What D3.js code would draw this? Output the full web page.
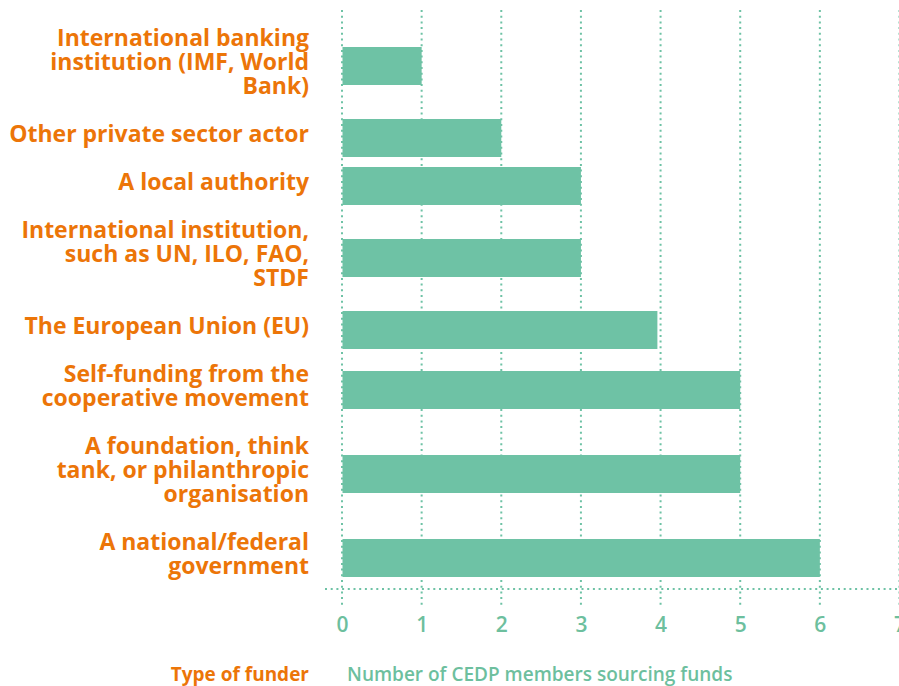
<!DOCTYPE html>
<html><head><meta charset="utf-8">
<script src="https://cdn.jsdelivr.net/npm/d3@7/dist/d3.min.js"></script>
<style>
html,body{margin:0;padding:0;background:#fff;}
svg{display:block;}
</style></head>
<body>
<svg id="chart" width="899" height="686"></svg>
<script>
// ---- data ----
const categories = [
  "International banking institution (IMF, World Bank)",
  "Other private sector actor",
  "A local authority",
  "International institution, such as UN, ILO, FAO, STDF",
  "The European Union (EU)",
  "Self-funding from the cooperative movement",
  "A foundation, think tank, or philanthropic organisation",
  "A national/federal government"
];
const categoryLines = [
  ["International banking", "institution (IMF, World", "Bank)"],
  ["Other private sector actor"],
  ["A local authority"],
  ["International institution,", "such as UN, ILO, FAO,", "STDF"],
  ["The European Union (EU)"],
  ["Self-funding from the", "cooperative movement"],
  ["A foundation, think", "tank, or philanthropic", "organisation"],
  ["A national/federal", "government"]
];
const values = [1, 2, 3, 3, 3.96, 5, 5, 6];
const xTicks = [0, 1, 2, 3, 4, 5, 6, 7];
const yTitle = "Type of funder";
const xTitle = "Number of CEDP members sourcing funds";

// ---- styles / layout ----
const ORANGE = "#ec7508";
const GREEN = "#6ec2a5";
const GREEN_TXT = "#6dbf9e";
const FONT = "'Open Sans', 'Noto Sans', sans-serif";
const plotLeft = 342, plotRight = 899.5;
const lineHeight = 24, firstLineTop = 26, barH = 38, barShift = 4;

const svg = d3.select("#chart");

// x scale
const x = d3.scaleLinear().domain([0, 7]).range([plotLeft, plotRight]);

// label lines laid out on a line grid, one blank line between categories
const starts = [];
let acc = 0;
categoryLines.forEach(l => { starts.push(acc); acc += l.length + 1; });
const totalLines = acc - 1;
const y = d3.scaleLinear().domain([0, totalLines])
  .range([firstLineTop, firstLineTop + totalLines * lineHeight]);
const centerOf = i => y(starts[i] + categoryLines[i].length / 2);

// gridlines
svg.append("g").selectAll("line").data(xTicks).join("line")
  .attr("x1", d => x(d)).attr("x2", d => x(d))
  .attr("y1", 10).attr("y2", 606)
  .attr("stroke", GREEN).attr("stroke-width", 2)
  .attr("stroke-dasharray", "2 3.7");

// bars
svg.append("g").selectAll("rect").data(values).join("rect")
  .attr("x", x(0) + 0.5)
  .attr("y", (d, i) => centerOf(i) + barShift - barH / 2)
  .attr("width", d => x(d) - x(0) - 0.5)
  .attr("height", barH)
  .attr("fill", GREEN);

// horizontal dotted axis line
svg.append("line")
  .attr("x1", 325).attr("x2", 899)
  .attr("y1", 589).attr("y2", 589)
  .attr("stroke", GREEN).attr("stroke-width", 2)
  .attr("stroke-dasharray", "2 3.7");

// x axis tick labels
const xAxis = d3.axisBottom(x).tickValues(xTicks).tickSize(0).tickPadding(0).tickFormat(d3.format("d"));
const gx = svg.append("g").attr("transform", "translate(0,617)").call(xAxis);
gx.select(".domain").remove();
gx.selectAll("text")
  .attr("fill", GREEN_TXT)
  .attr("font-family", FONT)
  .attr("font-weight", 600)
  .attr("font-size", 21)
  .attr("dy", "0.71em");

// category labels
const lab = svg.append("g").selectAll("text").data(categoryLines).join("text")
  .attr("text-anchor", "end")
  .attr("fill", ORANGE)
  .attr("font-family", FONT)
  .attr("font-weight", 700)
  .attr("font-size", 23)
  .attr("transform", (d, i) => `translate(309,${y(starts[i] + 0.5)})`);
lab.selectAll("tspan").data(d => d).join("tspan")
  .attr("x", 0)
  .attr("y", (d, j) => j * lineHeight)
  .attr("dy", "0.35em")
  .text(d => d);

// titles
svg.append("text")
  .attr("x", 309).attr("y", 681)
  .attr("text-anchor", "end")
  .attr("fill", ORANGE)
  .attr("font-family", FONT).attr("font-weight", 700).attr("font-size", 19)
  .text(yTitle);
svg.append("text")
  .attr("x", 347).attr("y", 681)
  .attr("fill", GREEN_TXT)
  .attr("font-family", FONT).attr("font-weight", 600).attr("font-size", 19)
  .text(xTitle);
</script>
</body></html>
